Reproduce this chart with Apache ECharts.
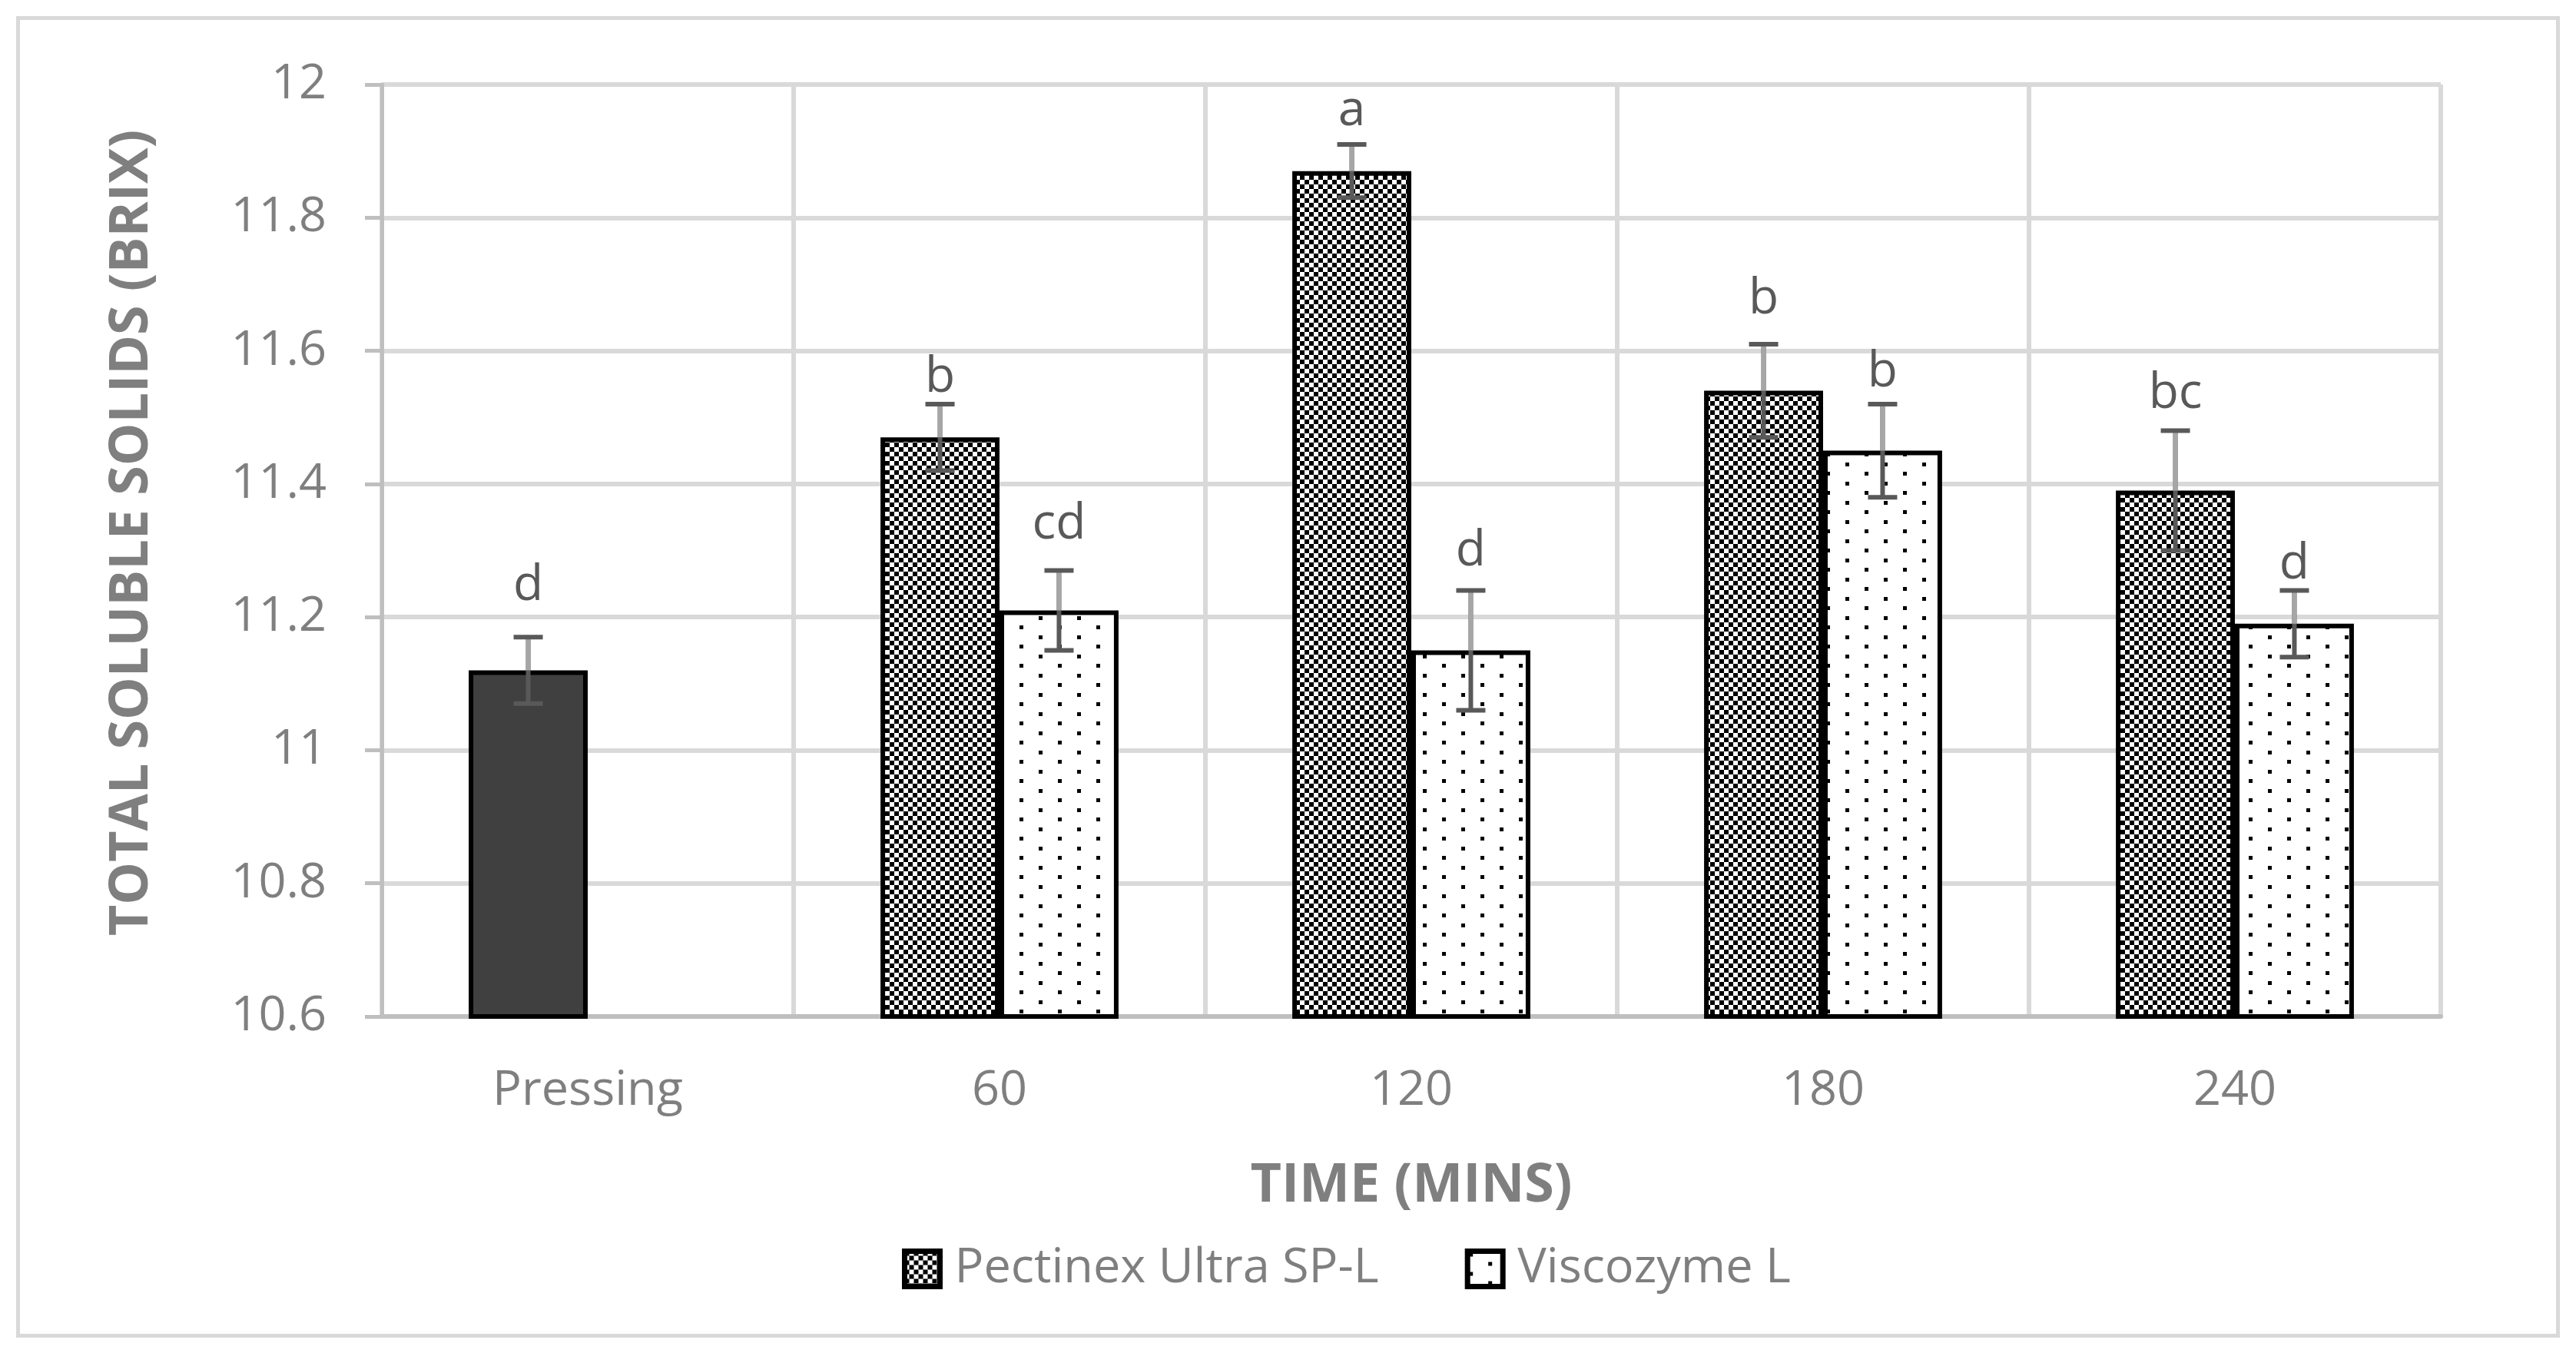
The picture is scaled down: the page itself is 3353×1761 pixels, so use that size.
<!DOCTYPE html>
<html>
<head>
<meta charset="utf-8">
<script src="https://cdn.jsdelivr.net/npm/echarts@6/dist/echarts.min.js"></script>
<style>
  html, body { margin: 0; padding: 0; background: #fff; }
  #tss { width: 3353px; height: 1761px; }
</style>
</head>
<body>
<div id="tss"></div>
<script>
// categories and values
const categories = ['Pressing', '60', '120', '180', '240'];
const pectinex = [11.12, 11.47, 11.87, 11.54, 11.39];
const pectinexErr = [0.05, 0.05, 0.04, 0.07, 0.09];
const pectinexLetters = ['d', 'b', 'a', 'b', 'bc'];
const pectinexLetterAt = [11.223, 11.536, 11.937, 11.654, 11.512];
const viscozyme = [null, 11.21, 11.15, 11.45, 11.19];
const viscozymeErr = [null, 0.06, 0.09, 0.07, 0.05];
const viscozymeLetters = ['', 'cd', 'd', 'b', 'd'];
const viscozymeLetterAt = [null, 11.316, 11.275, 11.544, 11.256];
const yTicks = { min: 10.6, max: 12, interval: 0.2 };

const FONT = "'Open Sans', 'Noto Sans', sans-serif";
const GREY = '#7f7f7f';
const BAR_FRAC = 0.289; // bar width as share of the category band

// fill patterns like the Excel hatch fills
function checkerPattern() {
  const c = document.createElement('canvas');
  c.width = 12; c.height = 12;
  const g = c.getContext('2d');
  g.fillStyle = '#fff'; g.fillRect(0, 0, 12, 12);
  g.fillStyle = '#000';
  g.fillRect(0, 0, 6, 6);
  g.fillRect(6, 6, 6, 6);
  return c;
}
function dotPattern() {
  const c = document.createElement('canvas');
  c.width = 50; c.height = 25;
  const g = c.getContext('2d');
  g.fillStyle = '#fff'; g.fillRect(0, 0, 50, 25);
  g.fillStyle = '#000';
  g.fillRect(2, 2, 5, 5);
  g.fillRect(27, 14, 5, 5);
  return c;
}

const chart = echarts.init(document.getElementById('tss'));

function errData(means, errs, letterAt) {
  const out = [];
  means.forEach((m, i) => {
    if (m == null) return;
    out.push([i, m - errs[i], m + errs[i], m, letterAt[i]]);
  });
  return out;
}

function errSeries(means, errs, letters, letterAt, side) {
  return {
    type: 'custom',
    z: 5,
    silent: true,
    encode: { x: 0, y: [1, 2] },
    data: errData(means, errs, letterAt),
    renderItem: function (params, api) {
      const i = api.value(0);
      const lo = api.coord([i, api.value(1)]);
      const hi = api.coord([i, api.value(2)]);
      const top = api.coord([i, api.value(3)]);
      const lab = api.coord([i, api.value(4)]);
      const band = api.size([1, 0])[0];
      const x = lo[0] + side * band * BAR_FRAC / 2;
      const cap = 19;
      return {
        type: 'group',
        children: [
          { type: 'line', shape: { x1: x, y1: hi[1], x2: x, y2: lo[1] },
            style: { stroke: '#595959', lineWidth: 6 } },
          { type: 'line', shape: { x1: x, y1: hi[1], x2: x, y2: top[1] },
            style: { stroke: '#a6a6a6', lineWidth: 6 } },
          { type: 'line', shape: { x1: x - cap, y1: hi[1], x2: x + cap, y2: hi[1] },
            style: { stroke: '#595959', lineWidth: 6 } },
          { type: 'line', shape: { x1: x - cap, y1: lo[1], x2: x + cap, y2: lo[1] },
            style: { stroke: '#595959', lineWidth: 6 } },
          { type: 'text', x: x, y: lab[1] + 12,
            style: { text: letters[i], fill: '#595959', font: '64px ' + FONT,
                     align: 'center', verticalAlign: 'bottom' } }
        ]
      };
    }
  };
}

const option = {
  backgroundColor: '#fff',
  animation: false,
  graphic: [{
    type: 'rect', left: 21, top: 21, z: -10,
    shape: { width: 3306, height: 1715 },
    style: { fill: 'none', stroke: '#d9d9d9', lineWidth: 5 }
  }],
  grid: { left: 497, right: 176, top: 110, bottom: 438 },
  legend: {
    data: ['Pectinex Ultra SP-L', 'Viscozyme L'],
    left: 1169,
    top: 1615,
    icon: 'rect',
    itemWidth: 46,
    itemHeight: 46,
    itemGap: 112,
    itemStyle: { borderColor: '#000', borderWidth: 7 },
    textStyle: { fontFamily: FONT, fontSize: 63, color: GREY, padding: [0, 0, 0, 14] }
  },
  xAxis: {
    type: 'category',
    data: categories,
    name: 'TIME (MINS)',
    nameLocation: 'middle',
    nameGap: 186,
    nameTextStyle: { fontFamily: FONT, fontSize: 70, fontWeight: 'bold', color: GREY },
    axisLine: { lineStyle: { color: '#bfbfbf', width: 6 } },
    axisTick: { length: 22, lineStyle: { color: '#bfbfbf', width: 5 } },
    axisLabel: { fontFamily: FONT, fontSize: 63, color: GREY, margin: 66 },
    splitLine: { show: true, lineStyle: { color: '#d9d9d9', width: 6 } }
  },
  yAxis: {
    type: 'value',
    min: yTicks.min,
    max: yTicks.max,
    interval: yTicks.interval,
    name: 'TOTAL SOLUBLE SOLIDS (BRIX)',
    nameLocation: 'middle',
    nameGap: 290,
    nameTextStyle: { fontFamily: FONT, fontSize: 70, fontWeight: 'bold', color: GREY, padding: [0, 0, 0, 46] },
    axisLine: { show: true, lineStyle: { color: '#bfbfbf', width: 5 } },
    axisTick: { show: true, length: 22, lineStyle: { color: '#bfbfbf', width: 5 } },
    axisLabel: {
      fontFamily: FONT, fontSize: 63, color: GREY, margin: 72,
      formatter: v => String(Number(v.toFixed(1)))
    },
    splitLine: { lineStyle: { color: '#d9d9d9', width: 6 } }
  },
  series: [
    {
      name: 'Pectinex Ultra SP-L',
      type: 'bar',
      barWidth: (BAR_FRAC * 100) + '%',
      barGap: '0%',
      itemStyle: { color: { image: checkerPattern(), repeat: 'repeat' }, borderColor: '#000', borderWidth: 6 },
      data: pectinex.map((v, i) => i === 0
        ? { value: v, itemStyle: { color: '#404040' } }
        : v)
    },
    {
      name: 'Viscozyme L',
      type: 'bar',
      barWidth: (BAR_FRAC * 100) + '%',
      barGap: '0%',
      itemStyle: { color: { image: dotPattern(), repeat: 'repeat' }, borderColor: '#000', borderWidth: 6 },
      data: viscozyme.map(v => v == null ? '-' : v)
    },
    errSeries(pectinex, pectinexErr, pectinexLetters, pectinexLetterAt, -1),
    errSeries(viscozyme, viscozymeErr, viscozymeLetters, viscozymeLetterAt, 1)
  ]
};

chart.setOption(option);
</script>
</body>
</html>
